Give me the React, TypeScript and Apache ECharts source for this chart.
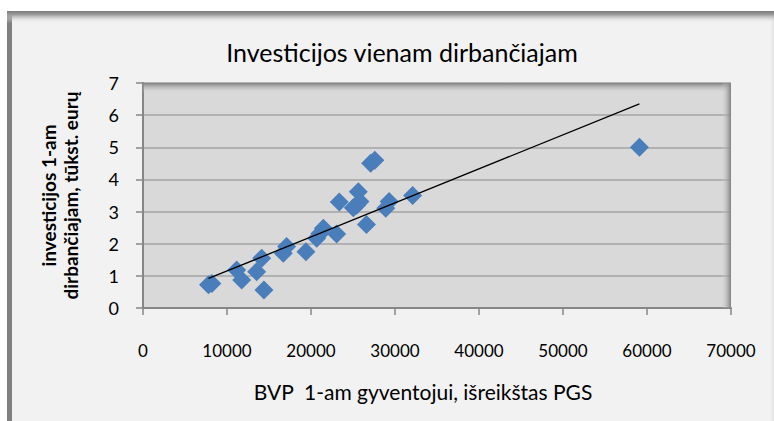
import React, { useEffect, useRef } from "react";
import * as echarts from "echarts";

const chartTitle = "Investicijos vienam dirbančiajam";
const xAxisTitle = "BVP  1-am gyventojui, išreikštas PGS";
const yAxisTitle = "investicijos 1-am\ndirbančiajam, tūkst. eurų";

// GDP per capita (PPS)
const gdpValues = [
  7800, 8200, 11150, 11750, 13530, 14130, 14400, 16700, 17100, 19400, 20680,
  21070, 21470, 23050, 23370, 25040, 25430, 25630, 25830, 26600, 27100, 27600,
  28900, 29300, 32100, 59100,
];
// Investment per worker, thousand EUR
const investValues = [
  0.72, 0.76, 1.18, 0.87, 1.13, 1.55, 0.56, 1.7, 1.91, 1.75, 2.17, 2.32, 2.48,
  2.3, 3.3, 3.12, 3.2, 3.62, 3.31, 2.6, 4.5, 4.6, 3.1, 3.31, 3.5, 5.0,
];
// Trend line endpoints
const trendX = [7800, 59100];
const trendY = [0.92, 6.35];

const xMin = 0;
const xMax = 70000;
const xStep = 10000;
const yMin = 0;
const yMax = 7;
const yStep = 1;

export default function App() {
  const ref = useRef<HTMLDivElement>(null);
  useEffect(() => {
    if (!ref.current) return;
    const chart = echarts.init(ref.current, null, { renderer: "svg" });
    const font = "Lato";
    const gridL = 143, gridT = 83, gridR = 43, gridB = 113;
    const W = 774, H = 421;
    const plotRight = W - gridR;
    chart.setOption({
      animation: false,
      backgroundColor: "#f2f2f2",
      textStyle: { fontFamily: font },
      title: {
        text: chartTitle,
        left: 397,
        top: 34,
        textAlign: "center",
        textStyle: { fontFamily: font, fontSize: 25, fontWeight: "normal", color: "#000" },
      },
      grid: {
        left: gridL,
        top: gridT,
        right: gridR,
        bottom: gridB,
        show: true,
        backgroundColor: "#d9d9d9",
        borderWidth: 0,
      },
      xAxis: {
        type: "value",
        min: xMin,
        max: xMax,
        interval: xStep,
        name: xAxisTitle,
        nameLocation: "middle",
        nameGap: 73,
        nameTextStyle: {
          fontFamily: font,
          fontSize: 21,
          fontWeight: "normal",
          color: "#000",
          padding: [0, 28, 0, 0],
        },
        axisLine: { show: true, lineStyle: { color: "#868686", width: 2 } },
        axisTick: { show: true, length: 7, lineStyle: { color: "#868686", width: 1.5 } },
        axisLabel: {
          margin: 34,
          fontSize: 17,
          color: "#000",
          fontFamily: font,
          formatter: (v: number) => String(v),
        },
        splitLine: { show: false },
      },
      yAxis: {
        type: "value",
        min: yMin,
        max: yMax,
        interval: yStep,
        name: yAxisTitle,
        nameLocation: "middle",
        nameRotate: 90,
        nameGap: 62,
        nameTextStyle: {
          fontFamily: font,
          fontSize: 19,
          fontWeight: "bold",
          color: "#000",
          lineHeight: 22,
        },
        axisLine: { show: true, lineStyle: { color: "#868686", width: 2 } },
        axisTick: { show: true, length: 7, lineStyle: { color: "#868686", width: 1.5 } },
        axisLabel: { margin: 24, fontSize: 18, color: "#000", fontFamily: font },
        splitLine: { show: true, lineStyle: { color: "#a3a3a3", width: 1.5 } },
      },
      graphic: [
        { type: "rect", shape: { x: 0, y: 0, width: W, height: 11 }, style: { fill: "#ffffff" }, z: 100 },
        { type: "rect", shape: { x: 0, y: 0, width: 7, height: H }, style: { fill: "#ffffff" }, z: 100 },
        { type: "rect", shape: { x: 7, y: 11, width: 5, height: H - 11 }, style: { fill: "#808080" }, z: 100 },
        {
          type: "rect",
          shape: { x: 7, y: 11, width: W - 7, height: 12 },
          style: {
            fill: new echarts.graphic.LinearGradient(0, 0, 0, 1, [
              { offset: 0, color: "#7a7a7a" },
              { offset: 0.3, color: "#9a9a9a" },
              { offset: 1, color: "rgba(242,242,242,0)" },
            ]),
          },
          z: 100,
        },
        {
          type: "rect",
          shape: { x: W - 5, y: 11, width: 5, height: H - 11 },
          style: {
            fill: new echarts.graphic.LinearGradient(0, 0, 1, 0, [
              { offset: 0, color: "rgba(242,242,242,0)" },
              { offset: 1, color: "#e0e0e0" },
            ]),
          },
          z: 99,
        },
        {
          type: "rect",
          shape: { x: gridL, y: gridT, width: plotRight - gridL, height: 10 },
          style: {
            fill: new echarts.graphic.LinearGradient(0, 0, 0, 1, [
              { offset: 0, color: "#7f7f7f" },
              { offset: 1, color: "rgba(217,217,217,0)" },
            ]),
          },
          z: 1,
        },
        {
          type: "rect",
          shape: { x: plotRight - 10, y: gridT, width: 10, height: H - gridB - gridT },
          style: {
            fill: new echarts.graphic.LinearGradient(0, 0, 1, 0, [
              { offset: 0, color: "rgba(217,217,217,0)" },
              { offset: 1, color: "#808080" },
            ]),
          },
          z: 1,
        },
      ],
      series: [
        {
          type: "scatter",
          symbol: "diamond",
          symbolSize: 19,
          itemStyle: { color: "#4a7ebb", opacity: 1 },
          data: gdpValues.map((x, i) => [x, investValues[i]]),
          z: 3,
        },
        {
          type: "line",
          symbol: "none",
          lineStyle: { color: "#000", width: 1.3 },
          data: trendX.map((x, i) => [x, trendY[i]]),
          z: 4,
        },
      ],
    });
    return () => chart.dispose();
  }, []);
  return (
    <div
      ref={ref}
      style={{ position: "absolute", left: 0, top: 0, width: 774, height: 421 }}
    />
  );
}
